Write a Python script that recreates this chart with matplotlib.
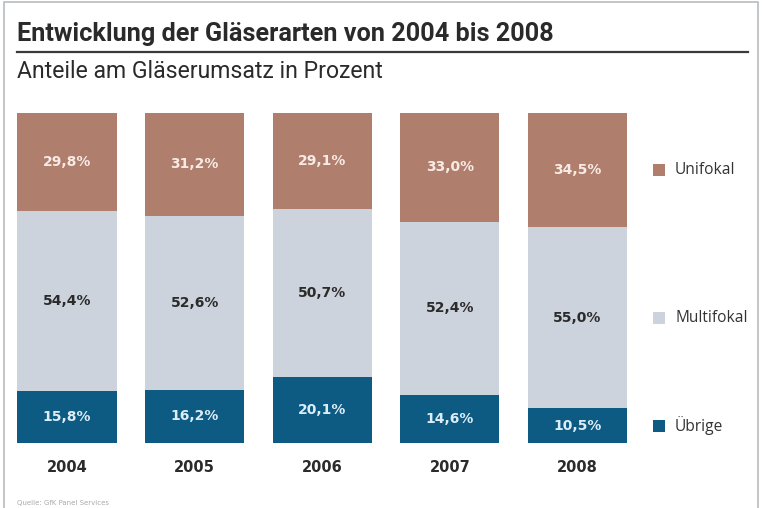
import matplotlib
matplotlib.use('Agg')
import matplotlib.pyplot as plt
import matplotlib.patches as mpatches
import matplotlib.transforms as mtransforms
import numpy as np

# data
years = ['2004', '2005', '2006', '2007', '2008']
uebrige = [15.8, 16.2, 20.1, 14.6, 10.5]
multifokal = [54.4, 52.6, 50.7, 52.4, 55.0]
unifokal = [29.8, 31.2, 29.1, 33.0, 34.5]

series = [
    ('Übrige', uebrige, '#0d5a83', '#dcedf6'),
    ('Multifokal', multifokal, '#cdd3dc', '#2b2b2b'),
    ('Unifokal', unifokal, '#b07e6c', '#f8ebe6'),
]

W, H = 762, 508
fig = plt.figure(figsize=(W / 100, H / 100), dpi=100)
fig.patch.set_facecolor('white')

# frame around the graphic
fig.patches.append(mpatches.Rectangle(
    (4 / W, -0.05), (758 - 4) / W, (H - 2) / H + 0.05,
    transform=fig.transFigure, fill=False,
    edgecolor='#b9bcc0', linewidth=1.2))

ax = fig.add_axes([3.2 / W, 65 / H, 638.1 / W, 330 / H])
x = np.arange(len(years))
bottom = np.zeros(len(years))
bar_w = 0.776

for name, vals, color, txt_color in series:
    vals = np.array(vals)
    ax.bar(x, vals, bar_w, bottom=bottom, color=color, linewidth=0)
    for xi, b, v in zip(x, bottom, vals):
        ax.text(xi, b + v / 2, f'{v:.1f}%'.replace('.', ','),
                ha='center', va='center', fontsize=10,
                fontweight='bold', color=txt_color,
                family='DejaVu Sans')
    # legend entry aligned with the last bar's segment
    yc = bottom[-1] + vals[-1] / 2
    trans = mtransforms.blended_transform_factory(ax.transAxes, ax.transData)
    ax.scatter([1.0275], [yc], s=70, marker='s', color=color,
               transform=trans, clip_on=False, linewidths=0)
    ax.text(1.053, yc, name, transform=trans, ha='left', va='center',
            fontsize=11.2, color='#333333', family='Open Sans')
    bottom = bottom + vals

ax.set_xlim(-0.5, len(years) - 0.5)
ax.set_ylim(0, 100)
ax.set_xticks(x)
ax.set_xticklabels(years, fontsize=10.5, fontweight='bold', color='#2b2b2b',
                   family='DejaVu Sans')
ax.tick_params(axis='x', length=0, pad=12)
ax.set_yticks([])
for s in ax.spines.values():
    s.set_visible(False)

# title, rule and subtitle
fig.text(17 / W, 1 - 34 / H, 'Entwicklung der Gläserarten von 2004 bis 2008',
         ha='left', va='center', fontsize=18.2, fontweight='bold',
         color='#2a2a2a', family=['Roboto', 'DejaVu Sans'])
fig.add_artist(plt.Line2D([17 / W, 748 / W], [1 - 52 / H, 1 - 52 / H],
                          transform=fig.transFigure, color='#3a3a3a',
                          linewidth=1.6))
fig.text(17 / W, 1 - 71 / H, 'Anteile am Gläserumsatz in Prozent',
         ha='left', va='center', fontsize=16.6, color='#2a2a2a',
         family=['Roboto', 'DejaVu Sans'])

fig.text(17 / W, 1 - 503 / H, 'Quelle: GfK Panel Services',
         ha='left', va='center', fontsize=5, color='#aaaaaa')

fig.savefig('out.png', dpi=100)
